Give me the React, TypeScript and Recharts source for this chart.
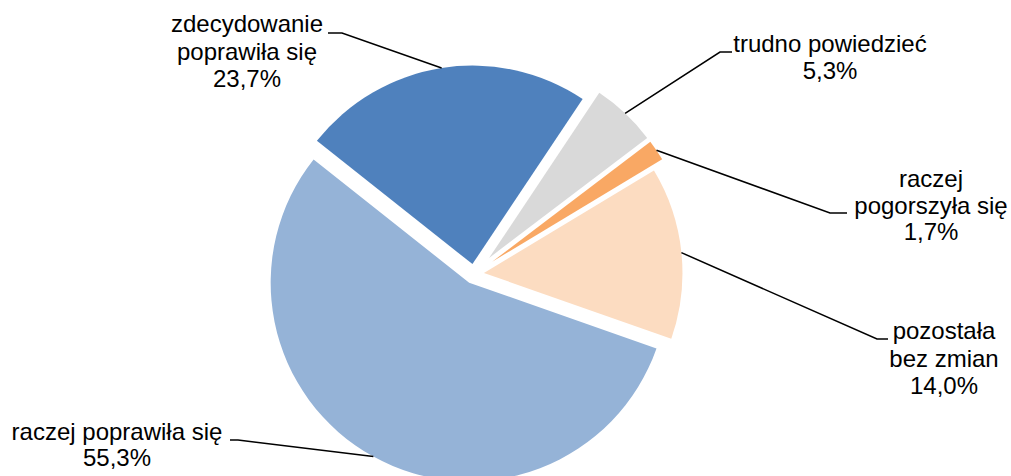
import { PieChart, Pie, Sector, Cell } from "recharts";

const CATEGORIES = [
  "zdecydowanie poprawiła się",
  "trudno powiedzieć",
  "raczej pogorszyła się",
  "pozostała bez zmian",
  "raczej poprawiła się",
];
const SHARES = [23.7, 5.3, 1.7, 14.0, 55.3];
const LABEL_LINES = [
  ["zdecydowanie", "poprawiła się"],
  ["trudno powiedzieć"],
  ["raczej", "pogorszyła się"],
  ["pozostała", "bez zmian"],
  ["raczej poprawiła się"],
];

const COLORS = ["#4F81BD", "#D9D9D9", "#F9A864", "#FCDCC1", "#95B3D7"];
// how far each slice is pulled out of the pie (px)
const EXPLODE = [10, 22, 22, 10, 10];
// manual label placement, like the hand-dragged labels in the original
const LABEL_LAYOUT = [
  { x: 247, y: 32, step: 27.7, elbowX: 342, endX: 328, lineY: 33 },
  { x: 830, y: 52, step: 26.7, elbowX: 720, endX: 732, lineY: 52 },
  { x: 931, y: 187, step: 26.7, elbowX: 830, endX: 847, lineY: 213 },
  { x: 944, y: 339, step: 27.5, elbowX: 877, endX: 888, lineY: 339 },
  { x: 117, y: 440, step: 26, elbowX: 238, endX: 230, lineY: 440 },
];

const RADIAN = Math.PI / 180;
const FONT = "'Liberation Sans', Arial, sans-serif";

const data = CATEGORIES.map((name, i) => ({ name, value: SHARES[i] }));

function fmt(v: number) {
  return v.toFixed(1).replace(".", ",") + "%";
}

function renderSlice(props: any) {
  const { cx, cy, midAngle, index } = props;
  const e = EXPLODE[index] ?? 0;
  const dx = e * Math.cos(-midAngle * RADIAN);
  const dy = e * Math.sin(-midAngle * RADIAN);
  return <Sector {...props} cx={cx + dx} cy={cy + dy} stroke="none" />;
}

function renderLabel(props: any) {
  const { cx, cy, midAngle, outerRadius, index, value } = props;
  const e = EXPLODE[index] ?? 0;
  const r = outerRadius + e;
  const sx = cx + r * Math.cos(-midAngle * RADIAN);
  const sy = cy + r * Math.sin(-midAngle * RADIAN);
  const l = LABEL_LAYOUT[index];
  const lines = [...LABEL_LINES[index], fmt(value)];
  return (
    <g>
      <polyline
        points={`${sx},${sy} ${l.elbowX},${l.lineY} ${l.endX},${l.lineY}`}
        fill="none"
        stroke="#000"
        strokeWidth={1.5}
      />
      <text x={l.x} y={l.y} textAnchor="middle" fill="#000" fontSize={24} fontFamily={FONT}>
        {lines.map((t, i) => (
          <tspan key={i} x={l.x} dy={i === 0 ? 0 : l.step}>
            {t}
          </tspan>
        ))}
      </text>
    </g>
  );
}

export default function App() {
  return (
    <div style={{ position: "absolute", left: 0, top: 0, width: 1011, height: 476, background: "#fff" }}>
      <PieChart width={1011} height={476} margin={{ top: 0, right: 0, bottom: 0, left: 0 }}>
        <Pie
          data={data}
          dataKey="value"
          nameKey="name"
          cx={474}
          cy={274}
          outerRadius={198.5}
          innerRadius={0}
          startAngle={141.6}
          endAngle={-218.4}
          stroke="none"
          shape={renderSlice}
          activeShape={renderSlice}
          inactiveShape={renderSlice}
          label={renderLabel}
          labelLine={false}
          isAnimationActive={false}
        >
          {data.map((d, i) => (
            <Cell key={d.name} fill={COLORS[i]} />
          ))}
        </Pie>
      </PieChart>
    </div>
  );
}
